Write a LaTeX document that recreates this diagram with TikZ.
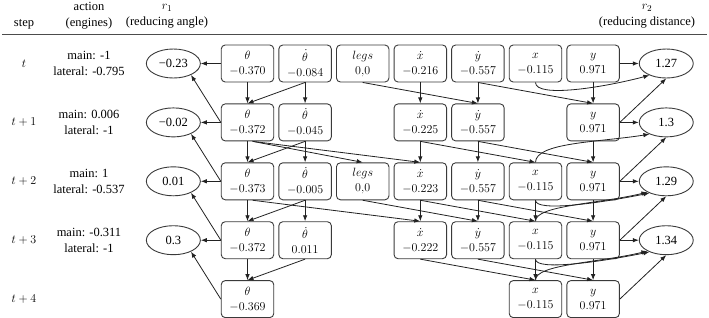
\documentclass[tikz,border=0pt]{standalone}
\usepackage{fontspec}
\setmainfont{Liberation Serif}
\usetikzlibrary{arrows.meta,positioning,shapes.geometric}
\definecolor{ln}{HTML}{222222}
\definecolor{bd}{HTML}{3A3A3A}

\begin{document}
\begin{tikzpicture}[x=1pt,y=1pt,node distance=21pt and 4.2pt,
   var/.style={draw=bd,line width=0.9pt,rounded corners=4pt,minimum width=52.5pt,
              minimum height=37pt,inner sep=1pt,align=center,font=\fontsize{13}{15}\selectfont},
   rew/.style={ellipse,draw=bd,line width=0.9pt,minimum width=54pt,minimum height=29pt,
              inner sep=0pt,font=\fontsize{12.5}{15}\selectfont},
   lbl/.style={align=center,font=\fontsize{12.5}{16}\selectfont},
   arr/.style={-{Latex[length=6pt,width=4.5pt]},line width=0.8pt,draw=ln}]
  \useasboundingbox (0,0) rectangle (709,-317);
  % header
  \node[lbl] (hstep) at (24,-24) {step};
  \node[lbl] (hact) at (89,-16) {action\\(engines)};
  \node[lbl] (hang) at (167,-16) {$r_1$\\(reducing angle)};
  \node[lbl] (hdist) at (647,-16) {$r_2$\\(reducing distance)};
  \draw[line width=0.9pt,draw=black!70] (2,-34) -- (707,-34);
  % step t
  \node[var] (th0) at (247.5,-63.5) {$\theta$\\$-0.370$};
  \node[var,right=of th0] (dth0) {$\dot{\theta}$\\$-0.084$};
  \node[var,right=of dth0] (legs0) {$legs$\\$0{,}0$};
  \node[var,right=of legs0] (dx0) {$\dot{x}$\\$-0.216$};
  \node[var,right=of dx0] (dy0) {$\dot{y}$\\$-0.557$};
  \node[var,right=of dy0] (x0) {$x$\\$-0.115$};
  \node[var,right=of x0] (y0) {$y$\\$0.971$};
  % step t+1
  \node[var,below=of th0] (th1) {$\theta$\\$-0.372$};
  \node[var,below=of dth0] (dth1) {$\dot{\theta}$\\$-0.045$};
  \node[var,below=of dx0] (dx1) {$\dot{x}$\\$-0.225$};
  \node[var,below=of dy0] (dy1) {$\dot{y}$\\$-0.557$};
  \node[var,below=of y0] (y1) {$y$\\$0.971$};
  % step t+2
  \node[var,below=of th1] (th2) {$\theta$\\$-0.373$};
  \node[var,below=of dth1] (dth2) {$\dot{\theta}$\\$-0.005$};
  \node[var,right=of dth2] (legs2) {$legs$\\$0{,}0$};
  \node[var,below=of dx1] (dx2) {$\dot{x}$\\$-0.223$};
  \node[var,below=of dy1] (dy2) {$\dot{y}$\\$-0.557$};
  \node[var,right=of dy2] (x2) {$x$\\$-0.115$};
  \node[var,below=of y1] (y2) {$y$\\$0.971$};
  % step t+3
  \node[var,below=of th2] (th3) {$\theta$\\$-0.372$};
  \node[var,below=of dth2] (dth3) {$\dot{\theta}$\\$0.011$};
  \node[var,below=of dx2] (dx3) {$\dot{x}$\\$-0.222$};
  \node[var,below=of dy2] (dy3) {$\dot{y}$\\$-0.557$};
  \node[var,below=of x2] (x3) {$x$\\$-0.115$};
  \node[var,below=of y2] (y3) {$y$\\$0.971$};
  % step t+4
  \node[var,below=of th3] (th4) {$\theta$\\$-0.369$};
  \node[var,below=of x3] (x4) {$x$\\$-0.115$};
  \node[var,below=of y3] (y4) {$y$\\$0.971$};
  % rewards
  \node[rew,left=20pt of th0] (ang0) {−0.23};
  \node[rew,left=20pt of th1] (ang1) {−0.02};
  \node[rew,left=20pt of th2] (ang2) {0.01};
  \node[rew,left=20pt of th3] (ang3) {0.3};
  \node[rew,right=19pt of y0] (dist0) {1.27};
  \node[rew,right=19pt of y1] (dist1) {1.3};
  \node[rew,right=19pt of y2] (dist2) {1.29};
  \node[rew,right=19pt of y3] (dist3) {1.34};
  % row labels
  \node[lbl] (st0) at (24,0 |- th0) {$t$};
  \node[lbl] (st1) at (24,0 |- th1) {$t+1$};
  \node[lbl] (st2) at (24,0 |- th2) {$t+2$};
  \node[lbl] (st3) at (24,0 |- th3) {$t+3$};
  \node[lbl] (st4) at (24,0 |- th4) {$t+4$};
  \node[lbl] (ac0) at (89,0 |- th0) {main: -1\\lateral: -0.795};
  \node[lbl] (ac1) at (89,0 |- th1) {main: 0.006\\lateral: -1};
  \node[lbl] (ac2) at (89,0 |- th2) {main: 1\\lateral: -0.537};
  \node[lbl] (ac3) at (89,0 |- th3) {main: -0.311\\lateral: -1};
  % angle reward
  \draw[arr] (th0.west) -- (ang0.east);
  \draw[arr] (th1.west) -- (ang0.-33);
  \draw[arr] (th1.west) -- (ang1.east);
  \draw[arr] (th2.west) -- (ang1.-33);
  \draw[arr] (th2.west) -- (ang2.east);
  \draw[arr] (th3.west) -- (ang2.-33);
  \draw[arr] (th3.west) -- (ang3.east);
  \draw[arr] (th4.west) -- (ang3.-33);
  % t -> t+1
  \draw[arr] (th0) -- (th1);
  \draw[arr] (dth0.south) -- (th1.north);
  \draw[arr] (dth0) -- (dth1);
  \draw[arr] (legs0.south) -- (dy1.north);
  \draw[arr] (dx0) -- (dx1);
  \draw[arr] (dy0) -- (dy1);
  \draw[arr] (dy0.south) -- (y1.north);
  \draw[arr] (y0) -- (y1);
  % t+1 -> t+2
  \draw[arr] (th1) -- (th2);
  \draw[arr] (dth1.south) -- (th2.north);
  \draw[arr] (dth1) -- (dth2);
  \draw[arr] (th1.-75) -- (legs2.north);
  \draw[arr] (th1.-75) -- (dx2.north);
  \draw[arr] (dx1) -- (dx2);
  \draw[arr] (dx1.south) -- (x2.north);
  \draw[arr] (dy1) -- (dy2);
  \draw[arr] (dy1.south) -- (y2.north);
  \draw[arr] (y1) -- (y2);
  % t+2 -> t+3
  \draw[arr] (th2) -- (th3);
  \draw[arr] (dth2.south) -- (th3.north);
  \draw[arr] (dth2) -- (dth3);
  \draw[arr] (th2.-75) -- (dx3.north);
  \draw[arr] (legs2.south) -- (dy3.north);
  \draw[arr] (dx2) -- (dx3);
  \draw[arr] (dx2.south) -- (x3.north);
  \draw[arr] (dy2) -- (dy3);
  \draw[arr] (dy2.south) -- (y3.north);
  \draw[arr] (x2) -- (x3);
  \draw[arr] (y2) -- (y3);
  % t+3 -> t+4
  \draw[arr] (th3) -- (th4);
  \draw[arr] (dth3.south) -- (th4.north);
  \draw[arr] (dx3.south) -- (x4.north);
  \draw[arr] (dy3.south) -- (y4.north);
  \draw[arr] (x3) -- (x4);
  \draw[arr] (y3) -- (y4);
  % distance reward
  \draw[arr] (y0.east) -- (dist0.west);
  \draw[arr] (y1.east) -- (dist0.south);
  \draw[arr] (x0.south) .. controls +(0,-16) and +(-45,-12) .. (dist0.-145);
  \draw[arr] (y1.east) -- (dist1.west);
  \draw[arr] (y2.east) -- (dist1.south);
  \draw[arr] (x2.north) .. controls +(0,20) and +(-50,-8) .. (dist1.-145);
  \draw[arr] (y2.east) -- (dist2.west);
  \draw[arr] (y3.east) -- (dist2.south);
  \draw[arr] (x2.south) .. controls +(0,-12) and +(-50,-10) .. (dist2.-145);
  \draw[arr] (x3.north) .. controls +(0,16) and +(-50,-12) .. (dist2.-150);
  \draw[arr] (y3.east) -- (dist3.west);
  \draw[arr] (y4.east) -- (dist3.south);
  \draw[arr] (x3.south) .. controls +(0,-12) and +(-50,-10) .. (dist3.-145);
  \draw[arr] (x4.north) .. controls +(0,16) and +(-50,-12) .. (dist3.-150);
\end{tikzpicture}
\end{document}
